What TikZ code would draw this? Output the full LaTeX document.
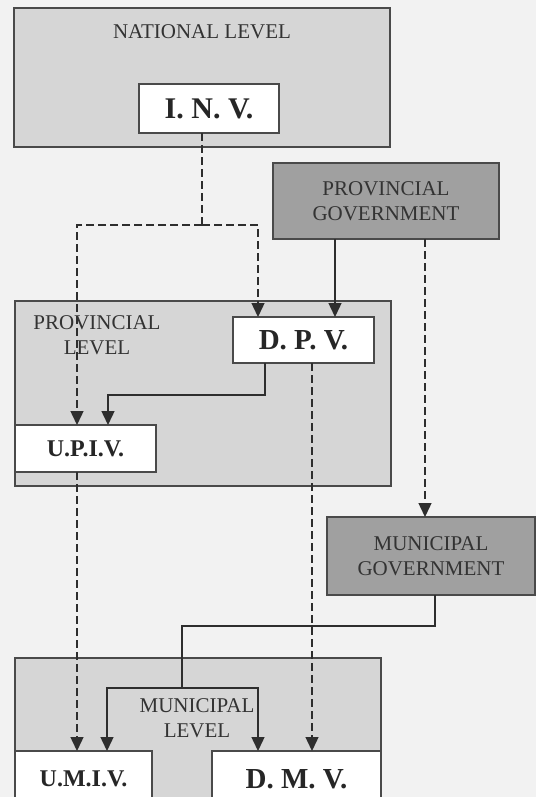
\documentclass[tikz,border=0pt]{standalone}
\usepackage{fontspec}
\setmainfont{Liberation Serif}
\usetikzlibrary{arrows.meta,calc}
\definecolor{bgc}{HTML}{F2F2F2}
\definecolor{levelc}{HTML}{D6D6D6}
\definecolor{govc}{HTML}{A0A0A0}
\definecolor{edgec}{HTML}{4A4A4A}
\definecolor{txtc}{HTML}{333333}
\definecolor{linec}{HTML}{2E2E2E}
\tikzset{
  box/.style={draw=edgec, line width=1.5pt, rectangle, inner sep=0pt, outer sep=0pt},
  levelbox/.style={box, fill=levelc},
  govbox/.style={box, fill=govc, text=txtc, align=center, font=\fontsize{21}{25}\selectfont},
  unitbox/.style={box, fill=white, text=black!85, font=\bfseries},
  lbl/.style={text=txtc, align=center, font=\fontsize{21}{25}\selectfont, inner sep=0pt},
  conn/.style={draw=linec, line width=1.4pt},
  dconn/.style={conn, dash pattern=on 8pt off 4pt},
  tip/.style={-{Triangle[width=13pt,length=14pt]}},
}
\begin{document}
\begin{tikzpicture}[x=1pt,y=-1pt]
\useasboundingbox (0,0) rectangle (536,797);
\clip (0,0) rectangle (536,797);
\fill[bgc] (0,0) rectangle (536,797);

% level boxes
\node[levelbox, minimum width=376pt, minimum height=139pt] (nat) at (202,77.5) {};
\node[levelbox, minimum width=376pt, minimum height=185pt] (prov) at (203,393.5) {};
\node[levelbox, minimum width=366pt, minimum height=150pt] (mun) at (198,733) {};

% labels
\node[lbl] (natl) at (202,32) {NATIONAL LEVEL};
\node[lbl] (provl) at (97,335) {PROVINCIAL\\LEVEL};
\node[lbl] (munl) at (197,718) {MUNICIPAL\\LEVEL};

% government boxes
\node[govbox, minimum width=226pt, minimum height=76pt] (pg) at (386,201) {PROVINCIAL\\GOVERNMENT};
\node[govbox, minimum width=208pt, minimum height=78pt] (mg) at (431,556) {MUNICIPAL\\GOVERNMENT};

% coordinates for connector columns
\coordinate (xa) at (202,225);
\coordinate (xl) at (77,225);
\coordinate (xr) at (258,225);
\coordinate (xpg) at (335,0);
\coordinate (xpgd) at (425,0);
\coordinate (xd1) at (265,395);
\coordinate (xd1b) at (108,395);
\coordinate (xdd) at (312,0);
\coordinate (xm1) at (435,626);
\coordinate (xm2) at (182,626);
\coordinate (xm3) at (182,688);
\coordinate (xm4) at (107,688);
\coordinate (xm5) at (258,688);

% unit boxes
\node[unitbox, minimum width=140pt, minimum height=49pt, font=\fontsize{30}{30}\selectfont\bfseries] (inv) at (209,108.5) {I. N. V.};
\node[unitbox, minimum width=141pt, minimum height=46pt, font=\fontsize{29}{29}\selectfont\bfseries] (dpv) at (303.5,340) {D. P. V.};
\node[unitbox, minimum width=141pt, minimum height=47pt, font=\fontsize{24}{24}\selectfont\bfseries] (upiv) at (85.5,448.5) {U.P.I.V.};
\node[unitbox, minimum width=137pt, minimum height=60pt, font=\fontsize{24}{24}\selectfont\bfseries] (umiv) at (83.5,781) {\raisebox{5pt}{U.M.I.V.}};
\node[unitbox, minimum width=169pt, minimum height=60pt, font=\fontsize{29}{29}\selectfont\bfseries] (dmv) at (296.5,781) {\raisebox{5pt}{D. M. V.}};

% connectors
\draw[dconn] (xa |- inv.south) -- (xa);
\draw[dconn, tip] (xa) -- (xl) -- (xl |- upiv.north);
\draw[dconn, tip] (xa) -- (xr) -- (xr |- dpv.north);
\draw[conn, tip] (xpg |- pg.south) -- (xpg |- dpv.north);
\draw[dconn, tip] (xpgd |- pg.south) -- (xpgd |- mg.north);
\draw[conn, tip] (xd1 |- dpv.south) -- (xd1) -- (xd1b) -- (xd1b |- upiv.north);
\draw[dconn, tip] (xdd |- dpv.south) -- (xdd |- dmv.north);
\draw[dconn, tip] (xl |- upiv.south) -- (xl |- umiv.north);
\draw[conn] (xm1 |- mg.south) -- (xm1) -- (xm2) -- (xm3);
\draw[conn, tip] (xm3) -- (xm4) -- (xm4 |- umiv.north);
\draw[conn, tip] (xm3) -- (xm5) -- (xm5 |- dmv.north);
\end{tikzpicture}
\end{document}
